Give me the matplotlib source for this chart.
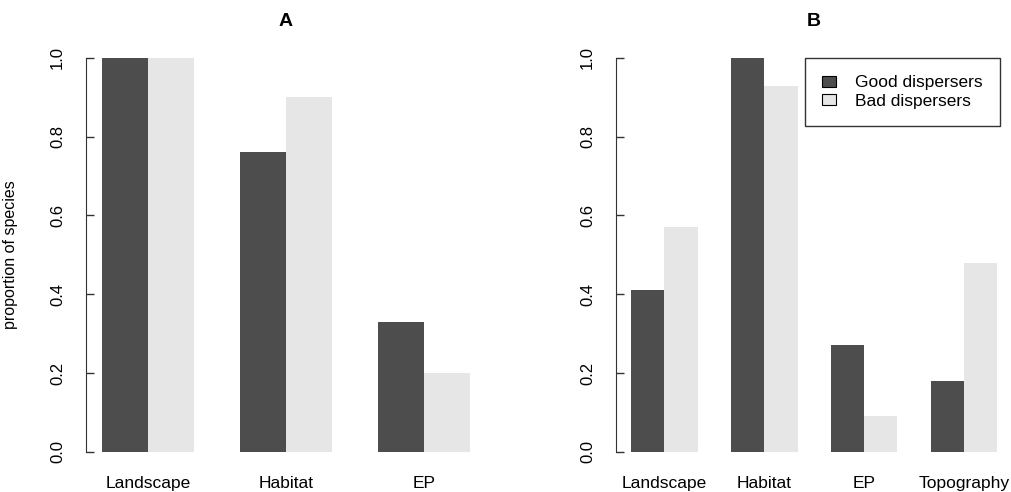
import numpy as np
import matplotlib
matplotlib.use('Agg')
import matplotlib.pyplot as plt
from matplotlib.patches import Patch

# Data
series = ['Good dispersers', 'Bad dispersers']
colors = ['#4d4d4d', '#e6e6e6']

cats_a = ['Landscape', 'Habitat', 'EP']
good_a = [1.00, 0.76, 0.33]
bad_a = [1.00, 0.90, 0.20]

cats_b = ['Landscape', 'Habitat', 'EP', 'Topography']
good_b = [0.41, 1.00, 0.27, 0.18]
bad_b = [0.57, 0.93, 0.09, 0.48]

plt.rcParams['font.family'] = ['Liberation Sans', 'DejaVu Sans']

W, H = 1012, 492
fig = plt.figure(figsize=(W / 100, H / 100), dpi=100)


def px_axes(left, right, top, bottom):
    return fig.add_axes([left / W, 1 - bottom / H, (right - left) / W, (bottom - top) / H])


def grouped_bars(ax, cats, values, xlim, title):
    n = len(values)
    for i, vals in enumerate(values):
        lefts = [1 + g * (n + 1) + i for g in range(len(cats))]
        ax.bar(lefts, vals, width=1, align='edge', color=colors[i], linewidth=0)
    centers = [1 + g * (n + 1) + n / 2 for g in range(len(cats))]
    ax.set_xticks(centers)
    ax.set_xticklabels(cats, fontsize=12.5)
    ax.tick_params(axis='x', length=0, pad=6)
    ax.set_xlim(*xlim)
    ax.set_ylim(-0.04, 1.04)
    ax.set_yticks([0, 0.2, 0.4, 0.6, 0.8, 1.0])
    ax.set_yticklabels(['0.0', '0.2', '0.4', '0.6', '0.8', '1.0'],
                       rotation=90, va='center', fontsize=12)
    ax.tick_params(axis='y', direction='in', length=6, width=1, color='#333333', pad=15)
    for s in ['top', 'right', 'bottom']:
        ax.spines[s].set_visible(False)
    ax.spines['left'].set_bounds(0, 1)
    ax.spines['left'].set_color('#333333')
    ax.set_title(title, fontsize=14, fontweight='bold', pad=12)


ax_a = px_axes(86, 485, 42.25, 467.45)
grouped_bars(ax_a, cats_a, [good_a, bad_a], (0.65, 9.32), 'A')
ax_a.set_ylabel('proportion of species', fontsize=11.5)
ax_a.yaxis.set_label_coords(-(86 - 18) / (485 - 86), 0.5)

ax_b = px_axes(616, 1012, 42.25, 467.45)
grouped_bars(ax_b, cats_b, [good_b, bad_b], (0.55, 12.44), 'B')

handles = [Patch(facecolor=c, edgecolor='black', linewidth=0.8) for c in colors]
leg = fig.legend(handles, series, loc='upper right',
                 bbox_to_anchor=(1000 / W, 1 - 58 / H), fontsize=12.5,
                 frameon=True, fancybox=False, edgecolor='black',
                 handlelength=0.8, handleheight=0.6, handletextpad=1.1,
                 borderpad=1.0, labelspacing=0.2, borderaxespad=0)
leg.get_frame().set_linewidth(1)

fig.savefig('out.png', dpi=100)
